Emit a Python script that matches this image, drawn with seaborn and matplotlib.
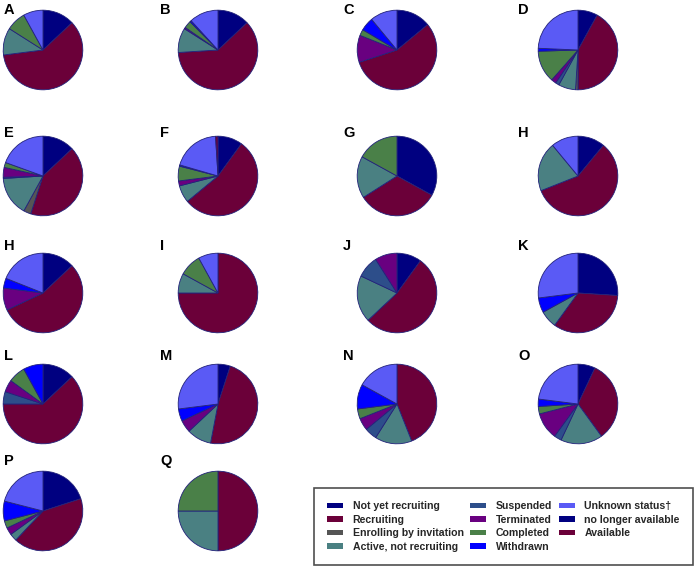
import matplotlib
matplotlib.use("Agg")
import matplotlib.pyplot as plt
from matplotlib.patches import Patch
import seaborn as sns

# status categories, clockwise from 12 o'clock
statuses = ["Not yet recruiting", "Recruiting", "Enrolling by invitation",
            "Active, not recruiting", "Suspended", "Terminated", "Completed",
            "Withdrawn", "Unknown status\u2020", "no longer available", "Available"]
status_colors = ["#000080", "#6b0039", "#555555", "#4a8082", "#2d4e8a",
                 "#690080", "#4a8048", "#0000ff", "#5a5af5", "#000080", "#6b0039"]

# share (%) of each status per panel, same order as statuses
pie_A = [13, 60, 0, 11, 0, 0, 8, 0, 8, 0, 0]
pie_B = [13, 61, 0, 10, 0, 0.6, 3, 0.6, 11.8, 0, 0]
pie_C = [14, 56, 0, 0, 0, 11, 2.5, 5.5, 11, 0, 0]
pie_D = [8, 42, 1, 7, 1.5, 2, 13, 1.2, 24.3, 0, 0]
pie_E = [13, 42, 3, 16, 0.5, 4, 2, 0, 19.5, 0, 0]
pie_F = [10, 54, 0, 7, 0, 2, 6, 0.5, 19.5, 0, 1]
pie_G = [33, 33, 0, 17, 0, 0, 17, 0, 0, 0, 0]
pie_H1 = [11, 58, 0, 20, 0, 0, 0, 0, 11, 0, 0]
pie_H2 = [13, 55, 0, 0, 0, 9, 0, 4, 19, 0, 0]
pie_I = [0, 75, 0, 8, 0, 0, 9, 0, 8, 0, 0]
pie_J = [10, 53, 0, 19, 9, 9, 0, 0, 0, 0, 0]
pie_K = [26, 34, 0, 7, 0, 0, 0, 6, 27, 0, 0]
pie_L = [13, 62, 0, 0, 5, 5, 7, 8, 0, 0, 0]
pie_M = [5, 48, 0, 10, 0, 5, 0, 5, 27, 0, 0]
pie_N = [0, 44, 0, 15, 5, 5, 4, 10, 17, 0, 0]
pie_O = [7, 33, 0, 17, 3, 11, 3, 3, 23, 0, 0]
pie_P = [20, 42, 0, 3, 0, 3, 3, 8, 21, 0, 0]
pie_Q = [0, 50, 0, 25, 0, 0, 25, 0, 0, 0, 0]

panels = [("A", pie_A), ("B", pie_B), ("C", pie_C), ("D", pie_D),
          ("E", pie_E), ("F", pie_F), ("G", pie_G), ("H", pie_H1),
          ("H", pie_H2), ("I", pie_I), ("J", pie_J), ("K", pie_K),
          ("L", pie_L), ("M", pie_M), ("N", pie_N), ("O", pie_O),
          ("P", pie_P), ("Q", pie_Q)]

sns.set_theme(style="white")
plt.rcParams["font.family"] = ["Liberation Sans", "DejaVu Sans"]

W, H = 699, 568
fig = plt.figure(figsize=(W / 100, H / 100), dpi=100)

col_x = [43, 218, 397, 578]      # pie centres (px)
row_y = [50, 176, 293, 404, 511]
label_x = [4, 160, 343, 518]
label_y = [3, 126, 239, 349, 454]
r = 41

for i, (name, vals) in enumerate(panels):
    row, col = divmod(i, 4)
    cx, cy = col_x[col], row_y[row]
    ax = fig.add_axes([(cx - r) / W, 1 - (cy + r) / H, 2 * r / W, 2 * r / H])
    keep = [(v, c) for v, c in zip(vals, status_colors) if v > 0]
    ax.pie([v for v, _ in keep], colors=[c for _, c in keep],
           startangle=90, counterclock=False,
           wedgeprops=dict(edgecolor="#22227a", linewidth=0.6))
    ax.set_xlim(-1.03, 1.03)
    ax.set_ylim(-1.03, 1.03)
    ax.axis("off")
    fig.text(label_x[col] / W, 1 - label_y[row] / H, name, ha="left", va="top",
             fontsize=10.5, fontweight="bold", color="black")

handles = [Patch(facecolor=c, edgecolor="none", label=s)
           for s, c in zip(statuses, status_colors)]
leg = fig.legend(handles=handles, ncol=3, loc="upper left",
                 bbox_to_anchor=(314 / W, 1 - 565 / H, 379 / W, 77 / H),
                 mode="expand", frameon=True, fancybox=False,
                 edgecolor="#222222",
                 prop=dict(weight="bold", size=7.6),
                 handlelength=1.5, handleheight=0.45, handletextpad=0.9,
                 labelspacing=0.33, columnspacing=0.8, borderpad=1.25,
                 borderaxespad=0)
leg.get_frame().set_linewidth(1.2)

fig.savefig("out.png", dpi=100, facecolor="white")
